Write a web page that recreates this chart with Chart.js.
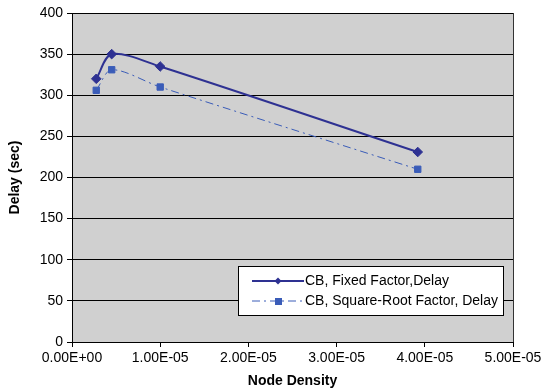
<!DOCTYPE html>
<html>
<head>
<meta charset="utf-8">
<script src="https://cdn.jsdelivr.net/npm/chart.js@4.4.1/dist/chart.umd.min.js"></script>
<style>
    html, body { margin: 0; padding: 0; background: #ffffff; }
    #wrap { width: 545px; height: 392px; }
</style>
</head>
<body>
<div id="wrap"><canvas id="delayChart" width="545" height="392"></canvas></div>
<script>
// node density values (x)
const nodeDensity = [2.75e-6, 4.5e-6, 1.0e-5, 3.92e-5];

// delay in seconds for each series
const fixedFactorDelay = [320, 350, 335, 231];
const squareRootDelay = [306, 331, 310, 210];

const seriesLabels = ['CB, Fixed Factor,Delay', 'CB, Square-Root Factor, Delay'];

// axis ticks
const xTicks = [0, 1e-5, 2e-5, 3e-5, 4e-5, 5e-5];
const yTicks = [0, 50, 100, 150, 200, 250, 300, 350, 400];

const FONT = "'Liberation Sans', Arial, sans-serif";

/**
 * Excel style scientific label, e.g. 1.00E-05
 */
function excelSci(value) {
    if (value === 0) return '0.00E+00';
    const parts = value.toExponential(2).split('e');
    const exp = parseInt(parts[1], 10);
    const sign = exp < 0 ? '-' : '+';
    return parts[0] + 'E' + sign + String(Math.abs(exp)).padStart(2, '0');
}

function toPoints(xs, ys) {
    return xs.map((x, i) => ({ x: x, y: ys[i] }));
}

// gray plot background and frame
const plotBackground = {
    id: 'plotBackground',
    beforeDraw(chart) {
        const { ctx, chartArea: a } = chart;
        ctx.save();
        ctx.fillStyle = '#d0d0d0';
        ctx.fillRect(a.left, a.top, a.right - a.left, a.bottom - a.top);
        ctx.restore();
    },
    afterDatasetsDraw(chart) {
        const { ctx, chartArea: a } = chart;
        ctx.save();
        ctx.strokeStyle = '#333333';
        ctx.lineWidth = 1;
        ctx.beginPath();
        ctx.moveTo(a.right + 0.5, a.top);
        ctx.lineTo(a.right + 0.5, a.bottom);
        ctx.stroke();
        ctx.restore();
    }
};

// boxed legend inside the plot, bottom right
const boxLegend = {
    id: 'boxLegend',
    afterDraw(chart) {
        const { ctx } = chart;
        const left = 238, top = 266, width = 265, height = 49;
        ctx.save();
        ctx.fillStyle = '#ffffff';
        ctx.fillRect(left, top, width, height);
        ctx.strokeStyle = '#000000';
        ctx.lineWidth = 1;
        ctx.strokeRect(left + 0.5, top + 0.5, width, height);

        chart.data.datasets.forEach((ds, i) => {
            const y = top + 15 + i * 20;
            ctx.strokeStyle = ds.borderColor;
            ctx.lineWidth = ds.borderWidth;
            ctx.setLineDash(ds.borderDash || []);
            ctx.beginPath();
            ctx.moveTo(left + 14, y);
            ctx.lineTo(left + 66, y);
            ctx.stroke();
            ctx.setLineDash([]);
            ctx.fillStyle = ds.pointBackgroundColor;
            if (ds.pointStyle === 'rectRot') {
                ctx.beginPath();
                ctx.moveTo(left + 40, y - 3.5);
                ctx.lineTo(left + 43.5, y);
                ctx.lineTo(left + 40, y + 3.5);
                ctx.lineTo(left + 36.5, y);
                ctx.closePath();
                ctx.fill();
            } else {
                ctx.fillRect(left + 37, y - 3, 7, 7);
            }
            ctx.fillStyle = '#000000';
            ctx.font = '14px ' + FONT;
            ctx.textBaseline = 'middle';
            ctx.fillText(ds.label, left + 67, y);
        });
        ctx.restore();
    }
};

new Chart(document.getElementById('delayChart'), {
    type: 'line',
    data: {
        datasets: [
            {
                label: seriesLabels[0],
                data: toPoints(nodeDensity, fixedFactorDelay),
                borderColor: '#2e3192',
                backgroundColor: '#2e3192',
                pointBackgroundColor: '#2e3192',
                pointBorderColor: '#2e3192',
                borderWidth: 2,
                pointStyle: 'rectRot',
                pointRadius: 4.8,
                pointBorderWidth: 1,
                tension: 0.3
            },
            {
                label: seriesLabels[1],
                data: toPoints(nodeDensity, squareRootDelay),
                borderColor: '#3a5cb8',
                backgroundColor: '#3a5cb8',
                pointBackgroundColor: '#3a5cb8',
                pointBorderColor: '#3a5cb8',
                borderWidth: 1,
                borderDash: [8, 4, 2, 4],
                pointStyle: 'rect',
                pointRadius: 4.5,
                tension: 0.3
            }
        ]
    },
    options: {
        responsive: false,
        animation: false,
        layout: { padding: { top: 13, right: 32, left: 0, bottom: 0 } },
        plugins: {
            legend: { display: false },
            tooltip: { enabled: false }
        },
        scales: {
            x: {
                type: 'linear',
                min: 0,
                max: 5e-5,
                afterBuildTicks(scale) {
                    scale.ticks = xTicks.map(v => ({ value: v }));
                },
                afterFit(scale) { scale.height = 50; },
                ticks: {
                    color: '#000000',
                    font: { family: FONT, size: 14 },
                    padding: 3,
                    maxRotation: 0,
                    callback: v => excelSci(v)
                },
                grid: {
                    drawOnChartArea: false,
                    drawTicks: true,
                    tickLength: 5,
                    color: '#000000'
                },
                border: { color: '#000000', width: 1 },
                title: {
                    display: true,
                    text: 'Node Density',
                    color: '#000000',
                    font: { family: FONT, size: 14, weight: 'bold' },
                    padding: { top: 2, bottom: 2 }
                }
            },
            y: {
                min: 0,
                max: 400,
                afterBuildTicks(scale) {
                    scale.ticks = yTicks.map(v => ({ value: v }));
                },
                afterFit(scale) { scale.width = 72; },
                ticks: {
                    color: '#000000',
                    font: { family: FONT, size: 14 },
                    padding: 4
                },
                grid: {
                    color: '#000000',
                    lineWidth: 1,
                    tickLength: 5
                },
                border: { color: '#000000', width: 1 },
                title: {
                    display: true,
                    text: 'Delay (sec)',
                    color: '#000000',
                    font: { family: FONT, size: 14, weight: 'bold' },
                    padding: { top: 7, bottom: 4 }
                }
            }
        }
    },
    plugins: [plotBackground, boxLegend]
});
</script>
</body>
</html>
